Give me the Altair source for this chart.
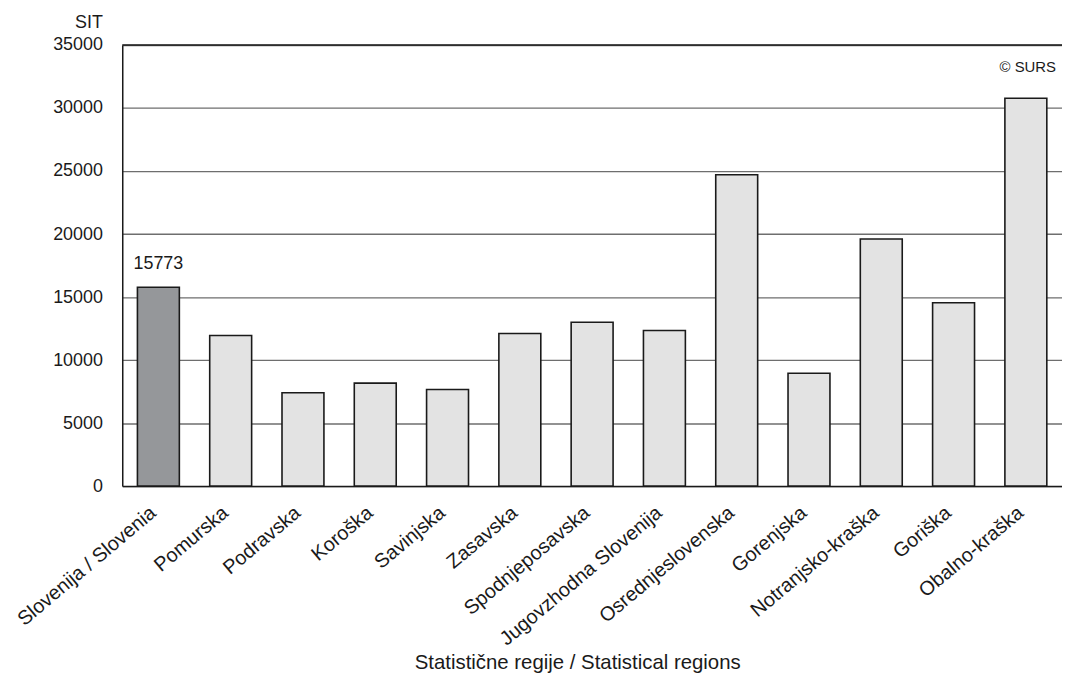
import altair as alt
import pandas as pd

regions = [
    "Slovenija / Slovenia", "Pomurska", "Podravska", "Koroška", "Savinjska",
    "Zasavska", "Spodnjeposavska", "Jugovzhodna Slovenija", "Osrednjeslovenska",
    "Gorenjska", "Notranjsko-kraška", "Goriška", "Obalno-kraška",
]
values = [15773, 11950, 7410, 8170, 7670, 12110, 13000, 12340, 24710, 8950, 19600, 14550, 30770]
highlight = [True] + [False] * 12
y_ticks = [0, 5000, 10000, 15000, 20000, 25000, 30000, 35000]

df = pd.DataFrame({"region": regions, "value": values, "highlight": highlight})

FONT = "Liberation Sans"
W, H = 946, 444

x_enc = alt.X(
    "region:N", sort=regions,
    scale=alt.Scale(paddingInner=0.42, paddingOuter=0.21),
    axis=alt.Axis(
        title="Statistične regije / Statistical regions",
        labelAngle=-40, labelAlign="right", labelBaseline="middle",
        labelPadding=24, labelOffset=-5, labelLimit=400, ticks=False,
        domainColor="#1a1a1a", domainWidth=1.5,
        labelFontSize=20, labelColor="#1a1a1a", labelFont=FONT,
        titleFontSize=20.5, titleFont=FONT, titleColor="#1a1a1a", titleFontWeight="normal",
        titleX=458, titleY=178, titleAnchor="start", titleAlign="center", titleBaseline="middle",
    ),
)
y_enc = alt.Y(
    "value:Q",
    scale=alt.Scale(domain=[0, 35000], nice=False),
    axis=alt.Axis(
        title="SIT", values=y_ticks, format="d", ticks=False, labelPadding=20,
        labelFontSize=18, labelColor="#1a1a1a", labelFont=FONT,
        domainColor="#1a1a1a", domainWidth=1.5,
        grid=True, gridColor="#6e6e6e", gridWidth=1.3,
        titleAngle=0, titleAlign="right", titleBaseline="middle",
        titleX=-20, titleY=-23, titleFontSize=18, titleFont=FONT,
        titleColor="#1a1a1a", titleFontWeight="normal",
    ),
)

bars = alt.Chart(df).mark_bar(stroke="#1a1a1a", strokeWidth=1.6).encode(
    x=x_enc,
    y=y_enc,
    color=alt.Color("highlight:N", scale=alt.Scale(domain=[True, False], range=["#95979a", "#e3e3e3"]), legend=None),
)

label = alt.Chart(df).transform_filter(alt.datum.highlight).mark_text(
    dy=-23, fontSize=18, font=FONT, color="#1a1a1a", baseline="middle"
).encode(
    x=alt.X("region:N", sort=regions),
    y="value:Q",
    text=alt.Text("value:Q", format="d"),
)

top_line = alt.Chart(pd.DataFrame({"y": [35000]})).mark_rule(color="#1a1a1a", strokeWidth=1.5).encode(
    y=alt.Y("y:Q")
)

copyright_txt = alt.Chart(pd.DataFrame({"t": ["© SURS"]})).mark_text(
    align="right", baseline="middle", fontSize=15, font=FONT, color="#1a1a1a"
).encode(
    text="t:N", x=alt.value(W - 6), y=alt.value(22)
)

chart = alt.layer(bars, label, top_line, copyright_txt).properties(
    width=W, height=H,
    autosize=alt.AutoSizeParams(type="none"),
    padding={"left": 115, "top": 35, "right": 0, "bottom": 200},
).configure_view(stroke=None).configure(background="white")

chart.save("out.html", embed_options={"renderer": "svg", "actions": False})
